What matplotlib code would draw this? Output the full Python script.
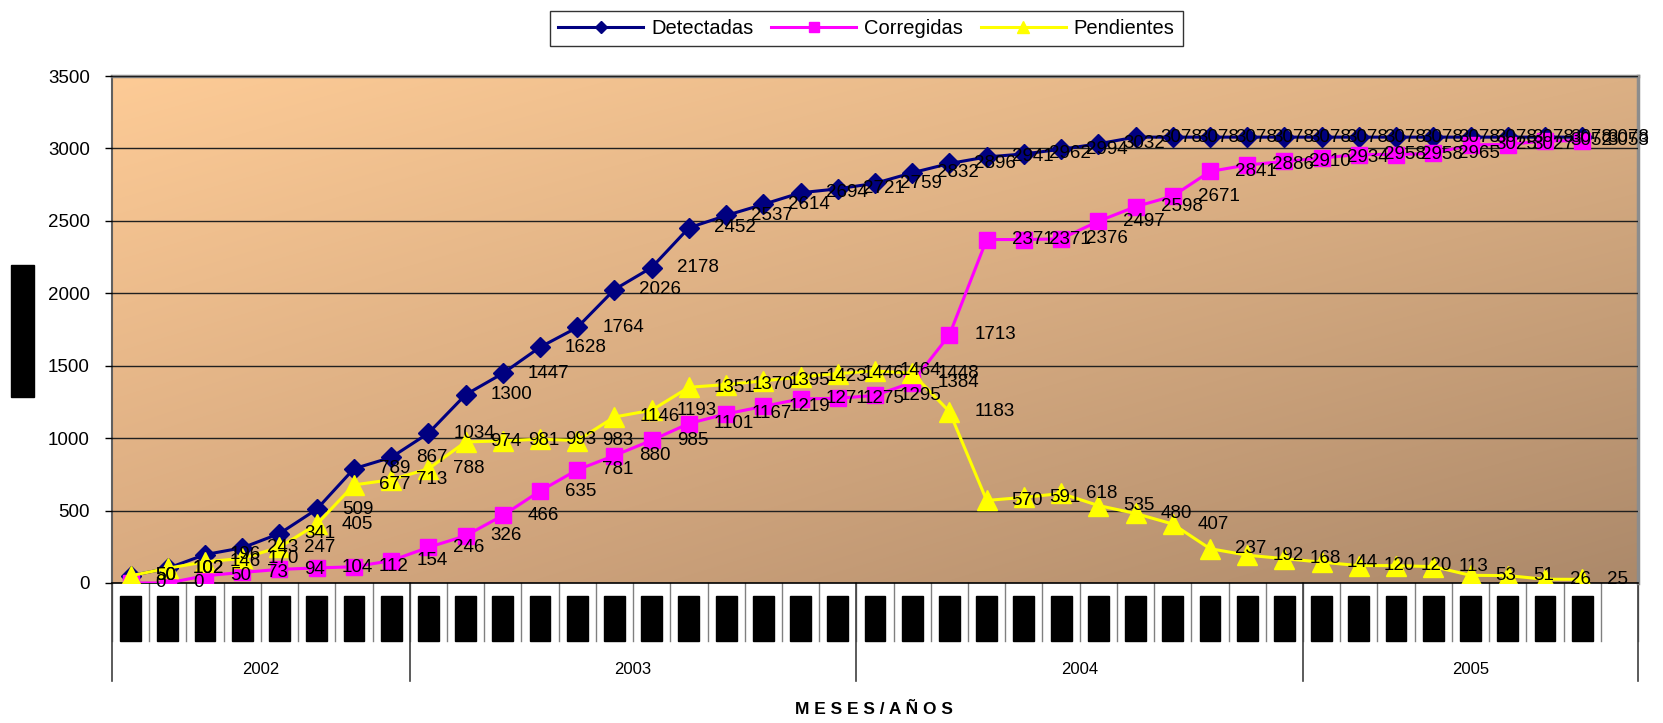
import numpy as np
import matplotlib.pyplot as plt
import matplotlib.transforms as mtransforms
from matplotlib.patches import Rectangle

plt.rcParams['font.family'] = ['Liberation Sans', 'DejaVu Sans']

# monthly totals, May 2002 .. Aug 2005
detectadas = [50, 102, 196, 243, 341, 509, 789, 867, 1034, 1300, 1447, 1628, 1764, 2026,
              2178, 2452, 2537, 2614, 2694, 2721, 2759, 2832, 2896, 2941, 2962, 2994, 3032,
              3078, 3078, 3078, 3078, 3078, 3078, 3078, 3078, 3078, 3078, 3078, 3078, 3078]
corregidas = [0, 0, 50, 73, 94, 104, 112, 154, 246, 326, 466, 635, 781, 880, 985, 1101,
              1167, 1219, 1271, 1275, 1295, 1384, 1713, 2371, 2371, 2376, 2497, 2598, 2671,
              2841, 2886, 2910, 2934, 2958, 2958, 2965, 3025, 3027, 3052, 3053]
pendientes = [50, 102, 146, 170, 247, 405, 677, 713, 788, 974, 981, 993, 983, 1146, 1193,
              1351, 1370, 1395, 1423, 1446, 1464, 1448, 1183, 570, 591, 618, 535, 480, 407,
              237, 192, 168, 144, 120, 120, 113, 53, 51, 26, 25]
years = ['2002', '2003', '2004', '2005']
months_per_year = [8, 12, 12, 9]   # 2005 keeps one empty slot at the end

n_slots = sum(months_per_year)
x = np.arange(len(detectadas))

fig = plt.figure(figsize=(16.63, 7.23), dpi=100)
ax = fig.add_axes([0.06735, 0.19364, 0.91762, 0.70124])

# plot area gradient (light peach top-left -> brown bottom-right)
tl = np.array([253, 203, 150]) / 255
tr = np.array([220, 176, 132]) / 255
bl = np.array([216, 170, 128]) / 255
br = np.array([172, 137, 106]) / 255
u = np.linspace(0, 1, 300)[None, :, None]
v = np.linspace(0, 1, 200)[:, None, None]
grad = (1 - v) * ((1 - u) * tl + u * tr) + v * ((1 - u) * bl + u * br)
ax.imshow(grad, extent=(-0.5, n_slots - 0.5, 0, 3500), aspect='auto', origin='upper',
          zorder=0, interpolation='bilinear')

ax.set_xlim(-0.5, n_slots - 0.5)
ax.set_ylim(0, 3500)
ax.set_yticks(range(0, 3501, 500))
ax.yaxis.grid(True, color='#202020', linewidth=1.0, zorder=1)
ax.set_axisbelow(False)
ax.set_xticks([])
ax.tick_params(axis='y', direction='out', length=5, width=1, labelsize=13.5, pad=11)

ax.spines['top'].set_color('#8c8c8c')
ax.spines['top'].set_linewidth(2.5)
ax.spines['right'].set_color('#8c8c8c')
ax.spines['right'].set_linewidth(2.5)
ax.spines['left'].set_color('#606060')
ax.spines['left'].set_linewidth(1.5)
ax.spines['bottom'].set_color('black')
ax.spines['bottom'].set_linewidth(1.2)

ax.plot(x, detectadas, color='#000080', marker='D', markersize=10.5, linewidth=2.2,
        label='Detectadas', zorder=3)
ax.plot(x, corregidas, color='#ff00ff', marker='s', markersize=11, linewidth=2.2,
        label='Corregidas', zorder=4)
ax.plot(x, pendientes, color='#ffff00', marker='^', markersize=14.5, linewidth=2.2,
        label='Pendientes', zorder=5)

# data labels, to the right of each point
for series in (detectadas, corregidas, pendientes):
    for i, val in enumerate(series):
        ax.annotate(str(val), (i, val), xytext=(18, 0), textcoords='offset points',
                    ha='left', va='center', fontsize=13.5, color='black', zorder=6,
                    annotation_clip=False)

# category axis below the plot: month cells (labels blacked out) and year groups
trans = mtransforms.blended_transform_factory(ax.transData, ax.transAxes)
for i in range(n_slots + 1):
    ax.plot([i - 0.5, i - 0.5], [0, -0.114], transform=trans, color='#808080',
            linewidth=1, clip_on=False)
for i in range(len(detectadas)):
    ax.add_patch(Rectangle((i - 0.28, -0.114), 0.56, 0.088, transform=trans,
                           color='black', clip_on=False, zorder=2))

start = 0
for year, n in zip(years, months_per_year):
    ax.plot([start - 0.5, start - 0.5], [0, -0.193], transform=trans, color='#404040',
            linewidth=1.2, clip_on=False)
    ax.text(start + n / 2 - 0.5, -0.17, year, transform=trans, ha='center', va='center',
            fontsize=12)
    start += n
ax.plot([start - 0.5, start - 0.5], [0, -0.193], transform=trans, color='#404040',
        linewidth=1.2, clip_on=False)

fig.text(874 / 1663, 1 - 710 / 723, 'M E S E S / A Ñ O S', ha='center', va='center',
         fontsize=12.5, fontweight='bold')

# y axis title blacked out
fig.add_artist(Rectangle((11 / 1663, 1 - 397 / 723), 23 / 1663, 132 / 723,
                         transform=fig.transFigure, color='black'))

leg = fig.legend(loc='center', bbox_to_anchor=(0.521, 0.961), ncol=3, fontsize=14.5,
                 frameon=True, fancybox=False, edgecolor='black', handlelength=4.2,
                 markerscale=0.6, columnspacing=0.9, handletextpad=0.4,
                 borderpad=0.4)
leg.get_frame().set_linewidth(1.0)

fig.savefig('out.png', dpi=100)
